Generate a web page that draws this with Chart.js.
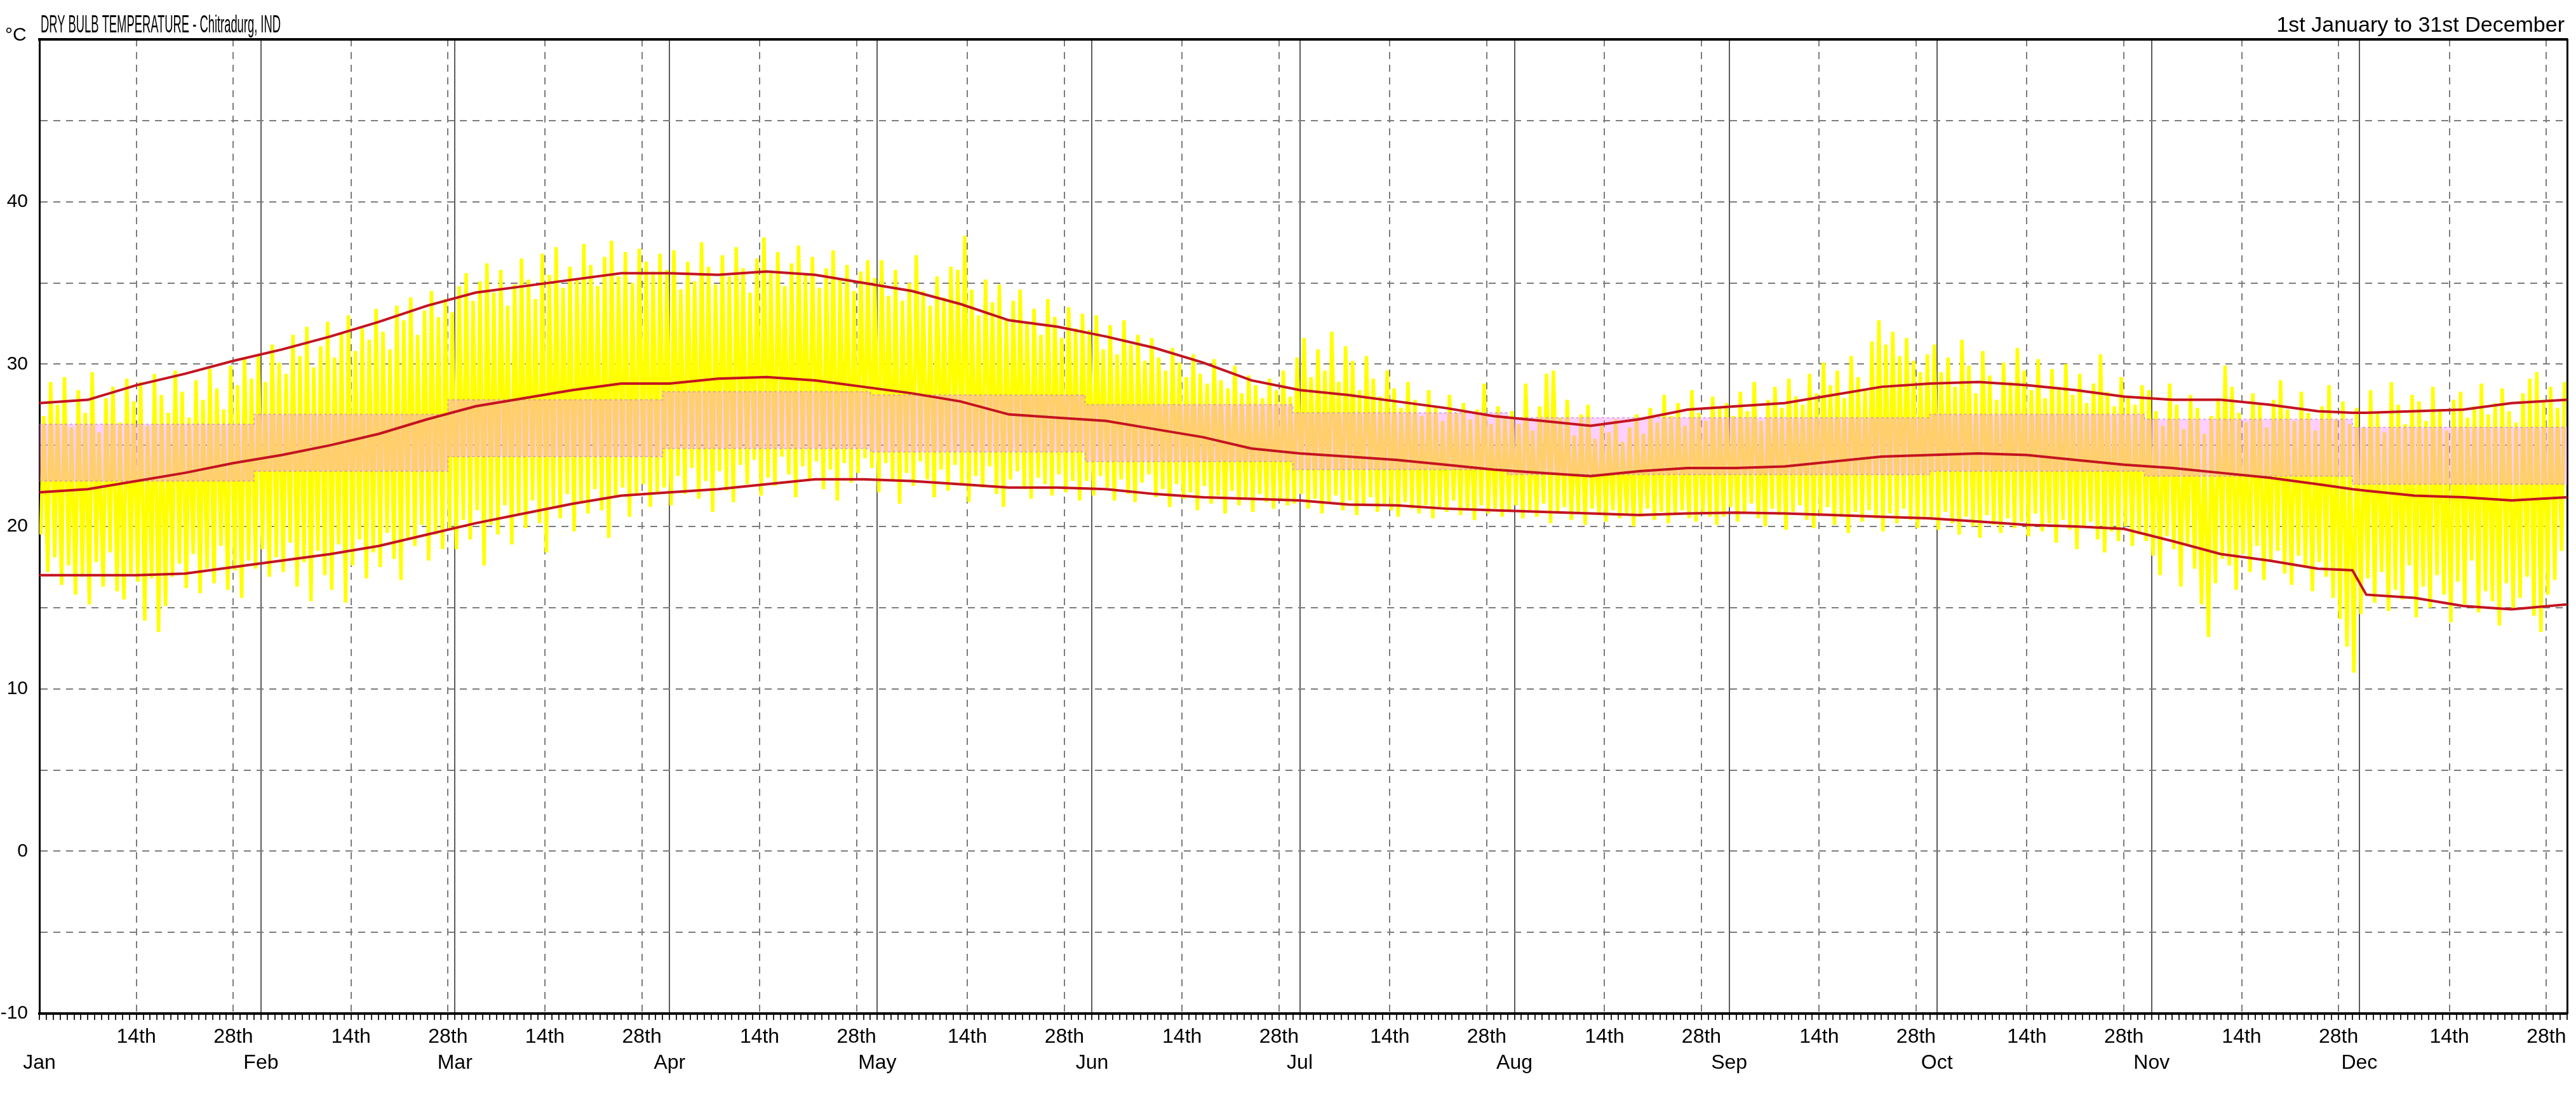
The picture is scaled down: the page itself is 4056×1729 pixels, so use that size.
<!DOCTYPE html>
<html>
<head>
<meta charset="utf-8">
<title>Dry Bulb Temperature - Chitradurg, IND</title>
<script src="https://cdn.jsdelivr.net/npm/chart.js@4.4.1/dist/chart.umd.min.js"></script>
<style>
	html, body { margin: 0; padding: 0; background: #fff; }
	#graficoTemperatura { display: block; }
</style>
</head>
<body>
<canvas id="graficoTemperatura" width="4056" height="1729"></canvas>
<script>
var titulo = 'DRY BULB TEMPERATURE - Chitradurg, IND';
var periodo = '1st January to 31st December';
var unidade = '°C';

var meses = ['Jan', 'Feb', 'Mar', 'Apr', 'May', 'Jun', 'Jul', 'Aug', 'Sep', 'Oct', 'Nov', 'Dec'];
var inicioMes = [0, 31, 59, 90, 120, 151, 181, 212, 243, 273, 304, 334];
var linhaMes = [0, 32, 60, 91, 121, 152, 182, 213, 244, 274, 305, 335];
var rotulosY = [-10, 0, 10, 20, 30, 40];

// maxima e minima de cada dia
var maxDiaria = [
	26.8, 28.9, 27.5, 29.2, 26.1, 28.4, 27.0, 29.5, 25.8, 27.9, 28.6, 26.4, 29.1, 27.7, 28.9, 26.2, 29.4, 28.1, 27.0, 29.6, 28.3, 26.7, 29.0, 27.8, 29.7, 28.5, 27.2, 29.9, 28.7, 30.4, 29.1,
	30.6, 28.9, 31.2, 30.1, 29.4, 31.8, 30.5, 32.3, 29.8, 31.1, 32.6, 30.4, 31.9, 33.0, 30.8, 32.2, 31.5, 33.4, 32.0, 30.9, 33.6, 32.7, 34.1, 31.8, 33.3, 34.5, 32.9, 34.0,
	33.2, 34.8, 35.6, 33.9, 35.1, 36.2, 34.4, 35.8, 33.6, 34.9, 36.5, 35.2, 34.0, 36.8, 35.5, 37.2, 34.7, 36.0, 35.3, 37.4, 36.1, 34.8, 36.6, 37.6, 35.4, 36.9, 35.0, 37.1, 36.3, 35.7, 36.8,
	35.8, 37.0, 34.6, 36.3, 35.1, 37.5, 36.0, 34.9, 36.7, 35.4, 37.2, 35.9, 34.4, 36.5, 37.8, 35.6, 36.9, 34.8, 36.2, 37.3, 35.5, 36.6, 34.7, 35.9, 37.0, 35.2, 36.1, 34.5, 35.7, 36.4,
	35.3, 36.4, 34.2, 35.8, 33.9, 35.0, 36.7, 34.5, 33.6, 35.4, 34.1, 36.0, 35.8, 37.9, 34.6, 33.0, 35.2, 33.8, 34.9, 32.8, 33.9, 34.6, 32.6, 33.4, 31.8, 34.0, 32.9, 31.6, 33.5, 32.2, 33.1,
	32.1, 33.0, 30.9, 32.4, 30.6, 32.7, 31.2, 31.8, 30.2, 31.6, 30.4, 29.6, 31.0, 30.1, 29.2, 30.6, 29.4, 28.8, 30.3, 29.0, 28.5, 29.9, 28.2, 29.3, 28.7, 27.9, 29.1, 28.4, 29.6, 28.0,
	30.4, 31.6, 29.2, 30.9, 29.6, 32.0, 28.9, 31.1, 30.2, 28.4, 30.5, 29.1, 28.0, 29.6, 28.5, 27.3, 28.9, 27.8, 26.8, 28.4, 27.4, 26.5, 28.1, 27.0, 27.6, 26.6, 27.2, 28.8, 26.3, 27.4, 26.8,
	27.1, 26.3, 28.8, 25.9, 27.4, 29.4, 29.6, 26.7, 27.8, 25.6, 26.9, 27.5, 25.4, 26.3, 25.8, 26.6, 25.2, 26.1, 26.9, 25.7, 27.3, 26.4, 28.1, 26.8, 27.6, 26.2, 28.4, 27.0, 26.5, 28.0, 27.3,
	27.6, 26.8, 28.3, 27.1, 28.9, 26.5, 27.8, 28.6, 27.3, 29.1, 28.0, 27.5, 29.4, 28.2, 30.1, 28.7, 29.6, 27.9, 30.5, 29.2, 28.4, 31.4, 32.7, 31.2, 32.0, 30.5, 31.6, 30.2, 29.5, 30.6,
	31.2, 29.5, 30.4, 28.6, 31.5, 29.9, 28.2, 30.8, 29.3, 27.8, 30.1, 28.9, 31.0, 29.6, 28.4, 30.3, 27.9, 29.7, 28.6, 30.0, 28.1, 29.4, 27.6, 28.8, 30.6, 28.3, 27.4, 29.2, 28.0, 27.5, 28.7,
	28.4, 27.1, 26.2, 28.8, 27.5, 26.0, 28.1, 27.3, 25.7, 26.8, 27.9, 29.9, 28.6, 27.0, 26.4, 28.2, 27.6, 26.1, 27.8, 29.0, 27.2, 26.5, 28.3, 27.0, 25.9, 27.4, 28.7, 26.6, 27.7, 26.3,
	27.3, 26.1, 28.4, 27.0, 25.8, 28.9, 27.5, 26.3, 28.1, 27.7, 26.5, 28.6, 27.2, 25.9, 27.8, 28.3, 26.7, 27.4, 28.8, 26.9, 27.6, 28.5, 27.1, 26.4, 28.2, 29.1, 29.5, 27.8, 28.6, 27.3, 28.9
];
var minDiaria = [
	19.5, 17.2, 18.1, 16.4, 17.6, 15.8, 16.9, 15.2, 17.8, 16.3, 18.4, 16.0, 15.5, 17.1, 16.6, 14.2, 16.8, 13.5, 15.1, 16.9, 17.7, 16.2, 18.3, 15.9, 17.4, 16.5, 18.8, 16.1, 17.3, 15.6, 17.9,
	17.4, 18.6, 16.9, 18.1, 17.2, 19.0, 16.3, 17.8, 15.4, 18.5, 17.0, 16.1, 18.9, 15.3, 17.6, 19.2, 16.8, 18.4, 17.5, 19.6, 18.0, 16.7, 19.3, 18.8, 20.1, 17.9, 19.5, 18.6,
	19.8, 18.6, 20.4, 19.2, 21.0, 17.6, 20.1, 19.5, 21.3, 18.9, 20.7, 19.9, 21.6, 20.2, 18.4, 21.1, 20.5, 22.0, 19.7, 21.4, 20.8, 22.3, 21.0, 19.3, 21.8, 22.4, 20.6, 21.9, 22.6, 21.2, 22.1,
	22.4, 21.3, 23.1, 22.0, 23.6, 21.7, 22.8, 20.9, 23.4, 22.2, 21.5, 23.8, 22.6, 24.1, 21.9, 23.0, 22.5, 24.3, 23.2, 21.8, 23.7, 22.9, 24.0, 22.3, 23.5, 21.6, 23.9, 22.7, 23.3, 24.2,
	23.6, 22.1, 23.9, 22.8, 21.4, 23.3, 22.5, 24.0, 22.9, 21.8, 23.5, 22.2, 23.8, 22.6, 21.5, 23.1, 22.4, 23.7, 22.0, 21.2, 22.9, 23.4, 22.3, 21.7, 23.0, 22.6, 21.9, 23.2, 22.1, 22.8, 21.6,
	22.8, 21.9, 23.1, 22.4, 21.6, 22.9, 22.0, 21.5, 22.7, 23.2, 21.8, 22.3, 21.2, 22.6, 21.7, 22.1, 21.0, 22.5, 21.4, 21.9, 20.8, 22.2, 21.3, 21.8, 20.9, 22.0, 21.5, 21.1, 21.7, 21.3,
	21.4, 22.0, 21.1, 21.7, 20.8, 21.5, 21.9, 21.0, 21.6, 20.7, 21.3, 21.8, 20.9, 21.4, 21.0, 20.6, 21.5, 21.1, 20.8, 21.3, 20.5, 21.2, 20.9, 21.6, 20.7, 21.0, 20.4, 21.3, 20.8, 21.1, 20.6,
	20.9, 21.3, 20.5, 21.0, 20.6, 21.4, 20.2, 20.8, 21.2, 20.4, 20.9, 20.1, 21.1, 20.7, 20.3, 21.0, 20.5, 20.8, 20.0, 20.6, 21.1, 20.4, 20.9, 20.2, 20.7, 21.0, 20.5, 20.3, 20.8, 20.6, 20.1,
	20.6, 21.2, 20.3, 20.9, 21.4, 20.5, 20.0, 21.1, 20.7, 19.8, 20.9, 21.3, 20.4, 19.9, 20.8, 21.2, 20.1, 20.6, 19.6, 20.9, 20.3, 21.0, 20.5, 19.7, 20.8, 20.2, 21.1, 20.4, 19.9, 20.6,
	20.4, 19.8, 20.9, 20.2, 19.5, 20.6, 20.0, 19.3, 20.7, 20.1, 19.6, 20.5, 19.9, 20.3, 19.4, 20.8, 19.7, 20.2, 19.0, 20.4, 19.8, 18.6, 19.9, 20.3, 19.2, 18.4, 19.7, 19.1, 20.0, 18.8, 19.5,
	19.1, 18.2, 17.0, 19.4, 18.6, 16.3, 18.9, 17.4, 15.2, 13.2, 16.5, 18.0, 17.6, 16.1, 18.3, 17.2, 18.8, 16.7, 17.9, 18.5, 17.1, 16.4, 18.2, 17.5, 16.0, 17.8, 16.9, 15.6, 14.3, 12.6,
	11.0, 14.6, 16.8, 15.3, 17.2, 14.8, 16.1, 15.5, 17.6, 14.4, 16.3, 15.0, 17.0, 15.8, 14.1, 16.6, 15.2, 17.9, 14.7, 16.0, 15.4, 13.9, 16.5, 14.9, 15.6, 16.9, 14.5, 13.5, 15.8, 16.7, 18.5
];

// medias semanais: maxima, media e minima
var diasMedia = [0, 7, 14, 21, 28, 35, 42, 49, 56, 63, 70, 77, 84, 91, 98, 105, 112, 119, 126, 133, 140, 147, 154, 161, 168, 175, 182, 189, 196, 203, 210, 217, 224, 231, 238, 245, 252, 259, 266, 273, 280, 287, 294, 301, 308, 315, 322, 329, 334, 336, 343, 350, 357, 365];
var mediaMax = [27.6, 27.8, 28.7, 29.4, 30.2, 30.9, 31.7, 32.6, 33.6, 34.4, 34.8, 35.2, 35.6, 35.6, 35.5, 35.7, 35.5, 35.0, 34.5, 33.7, 32.7, 32.3, 31.7, 31.0, 30.1, 29.0, 28.4, 28.1, 27.7, 27.3, 26.8, 26.5, 26.2, 26.6, 27.2, 27.4, 27.6, 28.1, 28.6, 28.8, 28.9, 28.7, 28.4, 28.0, 27.8, 27.8, 27.5, 27.1, 27.0, 27.0, 27.1, 27.2, 27.6, 27.8];
var mediaDia = [22.1, 22.3, 22.8, 23.3, 23.9, 24.4, 25.0, 25.7, 26.6, 27.4, 27.9, 28.4, 28.8, 28.8, 29.1, 29.2, 29.0, 28.6, 28.2, 27.7, 26.9, 26.7, 26.5, 26.0, 25.5, 24.8, 24.5, 24.3, 24.1, 23.8, 23.5, 23.3, 23.1, 23.4, 23.6, 23.6, 23.7, 24.0, 24.3, 24.4, 24.5, 24.4, 24.1, 23.8, 23.6, 23.3, 23.0, 22.6, 22.3, 22.2, 21.9, 21.8, 21.6, 21.8];
var mediaMin = [17.0, 17.0, 17.0, 17.1, 17.5, 17.9, 18.3, 18.8, 19.5, 20.2, 20.8, 21.4, 21.9, 22.1, 22.3, 22.6, 22.9, 22.9, 22.8, 22.6, 22.4, 22.4, 22.3, 22.0, 21.8, 21.7, 21.6, 21.35, 21.3, 21.1, 21.0, 20.9, 20.8, 20.7, 20.8, 20.85, 20.8, 20.7, 20.6, 20.5, 20.3, 20.1, 20.0, 19.85, 19.1, 18.3, 17.9, 17.4, 17.3, 15.8, 15.6, 15.1, 14.9, 15.2];

// faixa de conforto mensal
var confortoInf = [22.8, 23.4, 24.3, 24.8, 24.6, 24.0, 23.5, 23.2, 23.2, 23.4, 23.1, 22.6];
var confortoSup = [26.3, 26.9, 27.8, 28.3, 28.1, 27.5, 27.0, 26.7, 26.7, 26.9, 26.6, 26.1];

var Clima = Clima || {};

Clima.GraficoTemperatura = (function(){

	var vermelho = '#c41420';
	var fonte = '"Liberation Sans", Arial, sans-serif';

	function GraficoTemperatura(){
		this.ctx = document.getElementById('graficoTemperatura').getContext('2d');
	}

	GraficoTemperatura.prototype.iniciar = function(){
		var dia14 = inicioMes.map(function(d){ return d + 14; });
		var dia28 = inicioMes.map(function(d){ return d + 28; });

		var horario = [];
		maxDiaria.forEach(function(max, d){
			horario.push({ x: d + 0.22, y: minDiaria[d] });
			horario.push({ x: d + 0.62, y: max });
		});

		var textoTopo = {
			id: 'textoTopo',
			afterDraw: function(chart){
				var c = chart.ctx;
				var area = chart.chartArea;
				c.save();
				c.fillStyle = '#000';
				c.textBaseline = 'alphabetic';
				c.font = '38px ' + fonte;
				c.textAlign = 'left';
				c.fillText(titulo, area.left + 2, 51, 378);
				c.font = '34px ' + fonte;
				c.textAlign = 'right';
				c.fillText(periodo, area.right - 4, 50);
				c.font = '30px ' + fonte;
				c.textAlign = 'left';
				c.fillText(unidade, 8, 64);
				c.restore();
			}
		};

		new Chart(this.ctx, {
			type: 'line',
			data: {
				datasets: [
					{ label: 'Média das máximas', data: serie(mediaMax), borderColor: vermelho, borderWidth: 4, order: 0 },
					{ label: 'Média', data: serie(mediaDia), borderColor: vermelho, borderWidth: 4, order: 0 },
					{ label: 'Média das mínimas', data: serie(mediaMin), borderColor: vermelho, borderWidth: 4, order: 0 },
					{ label: 'Conforto inferior', data: degraus(confortoInf), stepped: true, fill: false, borderColor: 'rgba(190,120,210,0.55)', borderWidth: 2, borderDash: [4, 4], order: 1 },
					{ label: 'Conforto superior', data: degraus(confortoSup), stepped: true, fill: '-1', backgroundColor: 'rgba(255,140,255,0.42)', borderColor: 'rgba(190,120,210,0.55)', borderWidth: 2, borderDash: [4, 4], order: 1 },
					{ label: 'Temperatura', data: horario, borderColor: '#ffff00', borderWidth: 5.5, order: 2 }
				]
			},
			options: {
				responsive: false,
				devicePixelRatio: 1,
				animation: false,
				events: [],
				elements: { point: { radius: 0, hoverRadius: 0 }, line: { tension: 0 } },
				layout: { padding: { top: 62, right: 14, left: 0, bottom: 0 } },
				plugins: { legend: { display: false }, tooltip: { enabled: false } },
				scales: {
					x: {
						type: 'linear', position: 'bottom', min: 0, max: 365, z: 1,
						afterBuildTicks: function(eixo){
							var t = [];
							for (var d = 0; d <= 365; d++) t.push({ value: d });
							eixo.ticks = t;
						},
						afterFit: function(eixo){ eixo.height = 133; },
						ticks: {
							autoSkip: false, maxRotation: 0, minRotation: 0, padding: 6, color: '#000',
							font: { family: fonte, size: 32, lineHeight: 1.3 },
							callback: function(v){
								var m = linhaMes.indexOf(v);
								if (m >= 0) return ['', meses[m]];
								if (dia14.indexOf(v) >= 0) return '14th';
								if (dia28.indexOf(v) >= 0) return '28th';
								return '';
							}
						},
						grid: {
							lineWidth: 2, tickLength: 10, tickWidth: 2, tickColor: '#222',
							color: function(c){
								var v = c.tick ? c.tick.value : -1;
								return (dia14.indexOf(v) >= 0 || dia28.indexOf(v) >= 0) ? '#7c7c7c' : 'rgba(0,0,0,0)';
							}
						},
						border: { display: true, color: '#000', width: 4, dash: [11, 9] }
					},
					xTopo: {
						type: 'linear', position: 'top', min: 0, max: 365, z: 1,
						afterBuildTicks: function(eixo){
							eixo.ticks = linhaMes.slice(1).map(function(d){ return { value: d }; });
						},
						afterFit: function(eixo){ eixo.height = 0; },
						ticks: { display: false },
						grid: { drawTicks: false, color: '#5c5c5c', lineWidth: 2 },
						border: { display: true, color: '#000', width: 4 }
					},
					y: {
						type: 'linear', position: 'left', min: -10, max: 50, z: 1,
						afterFit: function(eixo){ eixo.width = 62; },
						ticks: {
							stepSize: 5, padding: 18, color: '#000',
							font: { family: fonte, size: 30 },
							callback: function(v){ return rotulosY.indexOf(v) >= 0 ? String(v) : ''; }
						},
						grid: {
							drawTicks: false, lineWidth: 2,
							color: function(c){
								var v = c.tick ? c.tick.value : -10;
								return (v === -10 || v === 50) ? 'rgba(0,0,0,0)' : '#7c7c7c';
							}
						},
						border: { display: true, color: '#000', width: 3, dash: [11, 9] }
					},
					yDireita: {
						type: 'linear', position: 'right', min: -10, max: 50,
						afterFit: function(eixo){ eixo.width = 0; },
						ticks: { display: false },
						grid: { display: false },
						border: { display: true, color: '#000', width: 3 }
					}
				}
			},
			plugins: [textoTopo]
		});
	};

	function serie(valores){
		return diasMedia.map(function(d, i){ return { x: d, y: valores[i] }; });
	}

	function degraus(valores){
		var pontos = inicioMes.map(function(d, i){ return { x: d, y: valores[i] }; });
		pontos.push({ x: 365, y: valores[valores.length - 1] });
		return pontos;
	}

	return GraficoTemperatura;
}());

window.addEventListener('load', function(){
	var grafico = new Clima.GraficoTemperatura();
	grafico.iniciar();
});
</script>
</body>
</html>
